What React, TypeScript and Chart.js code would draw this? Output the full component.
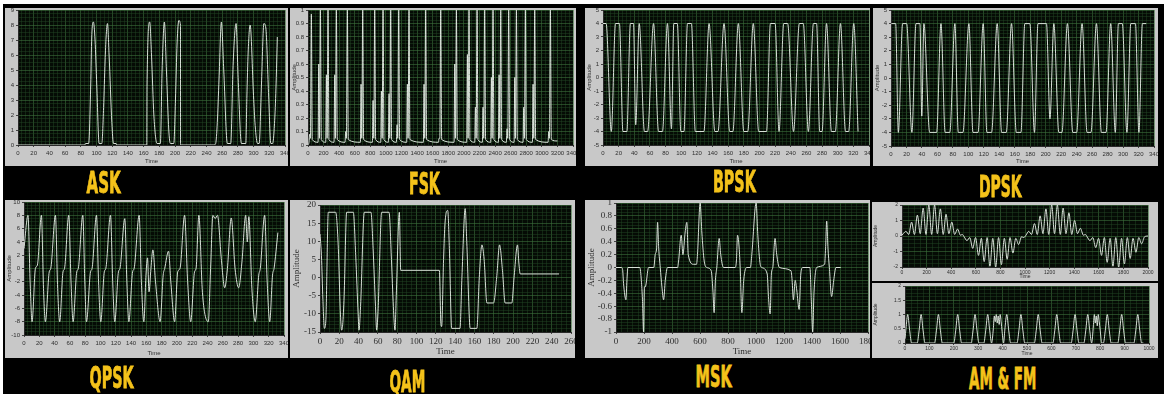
import React, { useEffect, useLayoutEffect, useRef } from "react";
import { Chart, registerables } from "chart.js";
Chart.register(...registerables);

// ---------------- data ----------------
const askTime = [0, 85, 86, 90, 92.6, 93.9, 96, 98.1, 100.3, 103.3,
  106.7, 109, 110.9, 112.2, 113.9, 116, 119.5, 121.6, 125, 125.5,
  164, 164.3, 167.7, 170, 173, 177.1, 181.3, 183.5, 186.4, 189,
  192, 194, 198.4, 200.5, 202.6, 204.8, 206.9, 207, 249.5, 251.7,
  253.8, 256, 259, 262, 266.6, 270.9, 273.9, 277.7, 280.3, 284.5,
  290.1, 291.4, 293.1, 295.6, 299.9, 302, 305, 307.1, 310, 313.1,
  315.6, 319, 322, 324.2, 327.2, 328.9, 330.2];
const askAmp = [0, 0, 0.1, 0.1, 4, 7.2, 8.2, 7, 4, 0.1,
  0.1, 2.5, 5.6, 7.2, 8.1, 6, 1.5, 0.1, 0.1, 0,
  0, 4, 8.2, 6, 2, 0.1, 0.1, 5, 8.2, 5,
  1, 0.1, 0.1, 3, 6.8, 8.3, 8, 0, 0, 0.1,
  1.5, 4.4, 8.2, 5, 0.1, 0.1, 5.3, 8.1, 4.5, 0.1,
  0.1, 3.1, 6.2, 8, 3.3, 1.3, 0.1, 0.1, 4, 8.1,
  7.8, 3.5, 0.1, 0.1, 2, 4.5, 7.2];

const fskTime = [0,
  13, 22, 31, 43, 55,
  129, 138, 147, 159, 171,
  227, 236, 245, 257, 269,
  334, 343, 352, 364, 376,
  475, 484, 493, 505, 517,
  672, 681, 690, 702, 714,
  826, 835, 844, 856, 868,
  933, 942, 951, 963, 975,
  1031, 1040, 1049, 1061, 1073,
  1134, 1143, 1152, 1164, 1176,
  1266, 1275, 1284, 1296, 1308,
  1480, 1489, 1498, 1510, 1522,
  1673, 1682, 1691, 1703, 1715,
  1874, 1883, 1892, 1904, 1916,
  2036, 2045, 2054, 2066, 2078,
  2139, 2148, 2157, 2169, 2181,
  2237, 2246, 2255, 2267, 2279,
  2344, 2353, 2362, 2374, 2386,
  2443, 2452, 2461, 2473, 2485,
  2545, 2554, 2563, 2575, 2587,
  2644, 2653, 2662, 2674, 2686,
  2759, 2768, 2777, 2789, 2801,
  2879, 2888, 2897, 2909, 2921,
  3080, 3089, 3098, 3110, 3122,
  3200];
const fskAmp = [0,
  0.02, 0.08, 0.05, 0.97, 0.04,
  0.02, 0.6, 0.05, 1, 0.04,
  0.02, 0.52, 0.05, 1, 0.04,
  0.02, 0.52, 0.05, 1, 0.04,
  0.02, 0.1, 0.05, 1, 0.04,
  0.02, 0.45, 0.05, 1, 0.04,
  0.02, 0.33, 0.05, 1, 0.04,
  0.02, 0.4, 0.05, 1, 0.04,
  0.02, 0.38, 0.05, 1, 0.04,
  0.02, 0.15, 0.05, 1, 0.04,
  0.02, 0.45, 0.05, 1, 0.04,
  0.02, 0.45, 0.05, 1, 0.04,
  0.02, 0.05, 0.05, 1, 0.04,
  0.02, 0.6, 0.05, 1, 0.04,
  0.02, 0.67, 0.05, 1, 0.04,
  0.02, 0.28, 0.05, 1, 0.04,
  0.02, 0.28, 0.05, 1, 0.04,
  0.02, 0.5, 0.05, 1, 0.04,
  0.02, 0.52, 0.05, 1, 0.04,
  0.02, 0.12, 0.05, 1, 0.04,
  0.02, 0.5, 0.05, 1, 0.04,
  0.02, 0.28, 0.05, 1, 0.04,
  0.02, 0.45, 0.05, 1, 0.04,
  0.02, 0.1, 0.05, 1, 0.04,
  0.03];

const bpskTime = [0, 4, 10.6, 16, 21, 25.5, 30.5, 35, 39, 41.8,
  46.3, 53, 57, 64.6, 71, 76, 82.4, 87.5, 90.5, 95,
  99.5, 103.5, 108, 113, 118, 129, 135.6, 143, 147, 154.7,
  162, 166, 173, 180, 185, 192.1, 199, 209, 214, 220,
  225, 231, 236, 243.5, 251, 256, 262.5, 269, 273, 277,
  280, 285.7, 292, 297, 303.5, 310, 314, 320.5, 326];
const bpskAmp = [4, 4, -4, 4, 4, -4, -4, 4, 4, -3.5,
  4, -4, -4, 4, -4, -4, 4, -3.8, 4, 4,
  -4, -4, 4, 4, -4, -4, 4, -4, -4, 4,
  -4, -4, 4, -4, -4, 4, -4, -4, 4, 4,
  -4, 4, 4, -4, 4, 4, -4, 4, 4, -4,
  -4, 4, -4, -4, 4, -4, -4, 4, -4];

const dpskTime = [0.5, 6, 9.5, 15, 20.2, 27, 32.3, 37.4, 39.8, 42.5,
  50, 59, 64.6, 70, 76, 82.6, 87, 93, 100.7, 106,
  112.5, 119.2, 124, 130, 137.3, 143, 149, 155.8, 162, 168,
  173, 179.5, 185.5, 190, 201, 205.5, 210.5, 217, 221, 228.1,
  235, 240, 247, 253.5, 258.5, 265.6, 272, 278, 284, 290,
  294, 299, 305, 310, 316, 320.5, 325, 330];
const dpskAmp = [4, 4, -4, 4, 4, -4, 4, 4, -2.8, 4,
  -4, -4, 4, -4, -4, 4, -4, -4, 4, -4,
  -4, 4, -4, -4, 4, -4, -4, 4, -4, -4,
  4, 4, -4, 4, 4, -3, 4, -4, -4, 4,
  -4, -4, 4, -4, -4, 4, -4, -4, 4, -4,
  4, 4, -4, 4, 4, -4, 4, 4];

const qpskTime = [0, 5.2, 8, 10.5, 14.9, 17.5, 22.8, 25.5, 28, 33,
  35, 41.1, 44, 46.7, 51, 53, 58.5, 61.5, 64.2, 69,
  71, 76.9, 79.5, 81.7, 87, 89, 94.8, 97.5, 100.4, 105,
  107, 113.1, 116, 118.7, 123.5, 125.5, 131.8, 134.5, 137.1, 142,
  144, 150.6, 153.5, 156.7, 159.5, 161.5, 163.5, 166, 168.5, 172,
  178, 182, 184, 189, 192, 197, 201, 204, 210, 214,
  218, 223, 225, 228.7, 233, 236, 241, 244, 247, 250,
  253, 258, 262.4, 266, 271, 276, 280.7, 285, 289.9, 292,
  294, 298, 302.4, 307, 309, 314.7, 318, 321.3, 325, 327,
  332];
const qpskAmp = [3, 8, -2, -8, 0, 0.5, 8, -3, -8, -0.5,
  0, 8, -3, -8, -0.5, 0, 8, -2, -8, -0.5,
  0, 8, -2, -8, -0.5, 0, 8, -2, -8, -0.5,
  0, 8, -2, -8, -0.5, 0, 7.5, -2, -8, -0.5,
  0, 8, -2, -8, -1, 1.6, -3.5, 0, 2.8, -2,
  -8, -1, 0, 2.6, -2, -8, -0.5, 0, 8, -2,
  -8, -0.5, 0, 8, -3, -6.5, -8, 0, 8, 7.5,
  8, 1.5, -2.9, 0, 7.6, 0, -2.9, 1, 8, 4,
  7.8, -3, -8, -1, 0, 8, -2, -8, -1, 0,
  5.4];

const qamTime = [0, 1.5, 3, 4.5, 6, 8.6, 16.2, 19, 21, 22.4,
  23.5, 25, 27.6, 34.5, 37, 39.5, 40.4, 42, 45.9, 52.8,
  55, 57.5, 58.7, 60, 63.9, 71.5, 74, 76, 77.7, 79,
  82.2, 83.6, 123.6, 125.3, 126, 128, 129.5, 132.3, 134, 136.4,
  145, 147, 150.4, 152, 155.6, 162.5, 165, 167.7, 170, 172.9,
  179.8, 183, 186, 189, 191.8, 198.7, 201, 204.6, 206, 207.4,
  247.6];
const qamAmp = [12, 6, -6, -14, -12, 18, 18, 8, -9, -14.5,
  -13, -5, 18, 18, 6, -10, -14.5, -8, 18, 18,
  8, -8, -14.5, -10, 18, 18, 5, -8, -14.5, -5,
  18, 2, 2, -13, -13.5, 5, 15, 18.5, 8, -14,
  -14, 0, 19, 10, -14, -14, 0, 9, 5, -7,
  -7, 0, 9, 2, -7, -7, 0, 9, 4, 1,
  1];

const mskTime = [0, 40, 48, 54, 71, 78, 85, 170, 181, 189,
  197, 203, 209, 233, 270, 280, 290, 297, 305, 316,
  328, 340, 352, 368, 440, 447, 466, 478, 494, 506,
  516, 554, 575, 582, 601, 613, 630, 649, 680, 692,
  701, 710, 720, 737, 748, 768, 850, 860, 868, 878,
  887, 899, 912, 934, 960, 970, 1001, 1013, 1030, 1041,
  1080, 1089, 1101, 1110, 1120, 1136, 1148, 1167, 1250, 1258,
  1267, 1280, 1291, 1308, 1320, 1334, 1385, 1395, 1405, 1414,
  1433, 1490, 1497, 1505, 1514, 1524, 1540, 1555, 1571, 1605];
const mskAmp = [0, 0, -0.05, -0.25, -0.5, -0.2, 0, 0, -0.2, -0.5,
  -1, -0.3, -0.3, 0, 0, 0.2, 0.3, 0.7, 0.3, 0,
  -0.3, -0.5, -0.2, 0, 0, 0.1, 0.5, 0.2, 0.55, 0.7,
  0.2, 0.05, 0.05, 0.2, 1, 0.55, 0.1, 0, -0.05, -0.35,
  -0.7, -0.2, 0, 0.45, 0.2, 0, 0, 0.1, 0.5, 0.35,
  0, -0.7, -0.2, 0, 0, 0.2, 1, 0.5, 0.05, 0,
  -0.1, -0.45, -0.72, -0.1, 0, 0.45, 0.2, 0, -0.05, -0.2,
  -0.5, -0.2, -0.35, -0.65, -0.1, 0, 0, -0.5, -1, -0.4,
  0, 0.05, 0.3, 0.72, 0.3, 0, -0.45, -0.2, 0, 0];

const amTime = [0, 10, 32, 55, 78, 101, 125, 148, 172, 195,
  218, 241, 265, 288, 312, 335, 358, 381, 405, 428,
  452, 475, 490, 505, 528, 551, 575, 598, 622, 645,
  668, 692, 715, 738, 762, 785, 808, 832, 855, 878,
  902, 925, 948, 972, 990, 1008, 1030, 1053, 1077, 1100,
  1123, 1146, 1170, 1193, 1217, 1240, 1263, 1287, 1310, 1333,
  1357, 1380, 1403, 1427, 1450, 1475, 1490, 1505, 1528, 1551,
  1575, 1598, 1622, 1645, 1668, 1692, 1715, 1738, 1762, 1785,
  1808, 1832, 1855, 1878, 1902, 1925, 1948, 1972, 2000];
const amAmp = [0.05, 0.15, 0.3, 0.1, 0.9, 0.1, 1.35, 0.15, 1.8, 0.1,
  2, 0.1, 2, 0.15, 1.75, 0.1, 1.4, 0.15, 0.9, 0.1,
  0.45, 0.05, 0.1, -0.05, -0.3, -0.1, -0.8, -0.1, -1.25, -0.15,
  -1.65, -0.1, -1.95, -0.15, -2, -0.1, -1.85, -0.15, -1.5, -0.1,
  -1.1, -0.15, -0.55, -0.05, -0.1, 0.05, 0.3, 0.1, 0.8, 0.1,
  1.3, 0.15, 1.75, 0.1, 2, 0.15, 2, 0.1, 1.8, 0.15,
  1.5, 0.1, 1, 0.15, 0.5, 0.05, 0.1, -0.05, -0.3, -0.1,
  -0.75, -0.15, -1.25, -0.1, -1.7, -0.15, -1.95, -0.1, -2, -0.15,
  -1.8, -0.1, -1.45, -0.15, -1.05, -0.1, -0.5, -0.05, 0];

const fmTime = [0, 4, 11, 19, 27, 50, 58, 66, 74, 82,
  121, 129, 137, 145, 153, 200, 208, 216, 224, 232,
  271, 279, 287, 295, 303, 323, 331, 339, 347, 355,
  362, 366, 370, 374, 378, 382, 386, 390, 394, 398,
  404, 409, 417, 425, 433, 459, 467, 475, 483, 491,
  530, 538, 546, 554, 562, 606, 614, 622, 630, 638,
  681, 689, 697, 705, 713, 733, 741, 749, 757, 765,
  772, 776, 780, 784, 788, 792, 796, 800, 806, 813,
  821, 829, 837, 845, 872, 880, 888, 896, 904, 938,
  946, 954, 962, 970, 977];
const fmAmp = [0.15, 0.5, 1, 0.45, 0, 0, 0.45, 1, 0.45, 0,
  0, 0.45, 1, 0.45, 0, 0, 0.45, 1, 0.45, 0,
  0, 0.45, 1, 0.45, 0, 0, 0.45, 1, 0.45, 0,
  0.5, 0.95, 0.75, 1, 0.7, 0.95, 0.65, 1, 0.75, 0.4,
  0, 0.45, 1, 0.45, 0, 0, 0.45, 1, 0.45, 0,
  0, 0.45, 1, 0.45, 0, 0, 0.45, 1, 0.45, 0,
  0, 0.45, 1, 0.45, 0, 0, 0.45, 1, 0.45, 0,
  0.6, 1, 0.7, 0.95, 0.6, 1, 0.75, 0.45, 0, 0,
  0.45, 1, 0.45, 0, 0, 0.45, 1, 0.45, 0, 0,
  0.45, 1, 0.45, 0, 0];

const labels = ["ASK", "FSK", "BPSK", "DPSK", "QPSK", "QAM", "MSK", "AM & FM"];

// ---------------- styling ----------------
const PANEL = "#c8c8c8";
const PLOT_BG = "#050b05";
const MAJOR = "rgba(58,110,58,0.6)";
const MINOR = "rgba(36,70,38,0.45)";
const TRACE = "rgba(226,234,226,0.95)";
const TEXT = "#2e2e2e";
const YELLOW = "#f4c21a";

type Geo = { x: number; y: number; w: number; h: number };
type Plot = { l: number; t: number; r: number; b: number };
type Cfg = {
  key: string; panel: Geo; plot: Plot;
  xr: number[]; yr: number[];
  time: number[]; amp: number[];
  fontSize: number; family: string; yTitle: boolean;
  tickPad: number;
};

const SANS = "'Liberation Sans', Arial, sans-serif";
const SERIF = "'Liberation Serif', 'Times New Roman', serif";

const charts: Cfg[] = [
  { key: "ask", panel: { x: 5, y: 8, w: 283, h: 158 }, plot: { l: 18, t: 10, r: 285, b: 145 }, xr: [0, 340, 20, 5], yr: [0, 9, 1, 0.25], time: askTime, amp: askAmp, fontSize: 6, family: SANS, yTitle: false, tickPad: 3 },
  { key: "fsk", panel: { x: 290, y: 8, w: 286, h: 158 }, plot: { l: 308, t: 10, r: 573, b: 145 }, xr: [0, 3400, 200, 50], yr: [0, 1, 0.1, 0.025], time: fskTime, amp: fskAmp, fontSize: 6, family: SANS, yTitle: true, tickPad: 3 },
  { key: "bpsk", panel: { x: 585, y: 8, w: 285, h: 158 }, plot: { l: 603, t: 10, r: 869, b: 145 }, xr: [0, 340, 20, 5], yr: [-5, 5, 1, 0.25], time: bpskTime, amp: bpskAmp, fontSize: 6, family: SANS, yTitle: true, tickPad: 3 },
  { key: "dpsk", panel: { x: 873, y: 8, w: 285, h: 158 }, plot: { l: 891, t: 10, r: 1154, b: 146 }, xr: [0, 340, 20, 5], yr: [-5, 5, 1, 0.25], time: dpskTime, amp: dpskAmp, fontSize: 6, family: SANS, yTitle: true, tickPad: 3 },
  { key: "qpsk", panel: { x: 5, y: 200, w: 283, h: 158 }, plot: { l: 24, t: 202, r: 284, b: 335 }, xr: [0, 340, 20, 5], yr: [-10, 10, 2, 0.5], time: qpskTime, amp: qpskAmp, fontSize: 6, family: SANS, yTitle: true, tickPad: 3 },
  { key: "qam", panel: { x: 290, y: 200, w: 285, h: 158 }, plot: { l: 320, t: 205, r: 571, b: 332 }, xr: [0, 260, 20, 5], yr: [-15, 20, 5, 1], time: qamTime, amp: qamAmp, fontSize: 9, family: SERIF, yTitle: true, tickPad: 2 },
  { key: "msk", panel: { x: 585, y: 200, w: 285, h: 158 }, plot: { l: 616, t: 203, r: 868, b: 332 }, xr: [0, 1800, 200, 40], yr: [-1, 1, 0.2, 0.05], time: mskTime, amp: mskAmp, fontSize: 9, family: SERIF, yTitle: true, tickPad: 2 },
  { key: "am", panel: { x: 872, y: 202, w: 286, h: 79 }, plot: { l: 902, t: 205, r: 1148, b: 267 }, xr: [0, 2000, 200, 50], yr: [-2, 2, 1, 0.25], time: amTime, amp: amAmp, fontSize: 5, family: SANS, yTitle: true, tickPad: 1 },
  { key: "fm", panel: { x: 872, y: 283, w: 286, h: 75 }, plot: { l: 905, t: 286, r: 1149, b: 343 }, xr: [0, 1000, 100, 25], yr: [0, 2, 0.5, 0.125], time: fmTime, amp: fmAmp, fontSize: 5, family: SANS, yTitle: true, tickPad: 1 },
];

const labelPos = [
  { cx: 103, cy: 182.5, w: 34 },
  { cx: 424.7, cy: 184, w: 31 },
  { cx: 734, cy: 182, w: 43 },
  { cx: 1000, cy: 186.7, w: 43 },
  { cx: 111.3, cy: 378, w: 44 },
  { cx: 407, cy: 381.7, w: 36 },
  { cx: 713, cy: 376.7, w: 36 },
  { cx: 1002, cy: 379, w: 67 },
];

const isMajor = (v: number, m: number) => Math.abs(v / m - Math.round(v / m)) < 1e-6;
const fmt = (v: number) => String(Math.round(v * 1000) / 1000);

const plotBg = {
  id: "plotBg",
  beforeDraw(chart: any) {
    const { ctx, chartArea: a } = chart;
    ctx.save();
    ctx.fillStyle = PLOT_BG;
    ctx.fillRect(a.left, a.top, a.right - a.left, a.bottom - a.top);
    ctx.restore();
  },
};

function WaveChart({ c }: { c: Cfg }) {
  const ref = useRef<HTMLCanvasElement>(null);
  useEffect(() => {
    const canvas = ref.current!;
    const padTop = c.plot.t - c.panel.y;
    const padRight = c.panel.x + c.panel.w - c.plot.r;
    const yW = c.plot.l - c.panel.x;
    const xH = c.panel.y + c.panel.h - c.plot.b;
    const font = { family: c.family, size: c.fontSize };
    const [xMin, xMax, xMaj, xMin2] = c.xr;
    const [yMin, yMax, yMaj, yMin2] = c.yr;
    const data = c.time.map((t, i) => ({ x: t, y: c.amp[i] }));
    const chart = new Chart(canvas, {
      type: "line",
      data: {
        datasets: [{
          data,
          borderColor: TRACE,
          borderWidth: 1,
          pointRadius: 0,
          cubicInterpolationMode: "monotone",
          fill: false,
        }],
      },
      options: {
        responsive: false,
        animation: false,
        devicePixelRatio: 1,
        events: [],
        plugins: { legend: { display: false }, tooltip: { enabled: false }, title: { display: false } },
        layout: { padding: { top: padTop, right: padRight, left: 0, bottom: 0 } },
        scales: {
          x: {
            type: "linear",
            min: xMin, max: xMax,
            ticks: {
              stepSize: xMin2, autoSkip: false, maxRotation: 0, minRotation: 0,
              font, color: TEXT, padding: c.tickPad,
              callback: (v: any) => (isMajor(Number(v), xMaj) ? fmt(Number(v)) : ""),
            },
            grid: {
              color: (ctx: any) => (ctx.tick && isMajor(ctx.tick.value, xMaj) ? MAJOR : MINOR),
              tickColor: (ctx: any) => (ctx.tick && isMajor(ctx.tick.value, xMaj) ? "#444" : "rgba(0,0,0,0)"),
              tickLength: 2,
              lineWidth: 1,
            },
            border: { display: true, color: "#2a2a2a" },
            title: { display: true, text: "Time", font, color: TEXT, padding: { top: 0, bottom: 1 } },
            afterFit: (s: any) => { s.height = xH; s.paddingLeft = 0; s.paddingRight = 0; },
          },
          y: {
            type: "linear",
            min: yMin, max: yMax,
            ticks: {
              stepSize: yMin2, autoSkip: false,
              font, color: TEXT, padding: 2,
              callback: (v: any) => (isMajor(Number(v), yMaj) ? fmt(Number(v)) : ""),
            },
            grid: {
              color: (ctx: any) => (ctx.tick && isMajor(ctx.tick.value, yMaj) ? MAJOR : MINOR),
              tickColor: (ctx: any) => (ctx.tick && isMajor(ctx.tick.value, yMaj) ? "#444" : "rgba(0,0,0,0)"),
              tickLength: 2,
              lineWidth: 1,
            },
            border: { display: true, color: "#2a2a2a" },
            title: { display: c.yTitle, text: "Amplitude", font, color: TEXT, padding: { top: 1, bottom: 0 } },
            afterFit: (s: any) => { s.width = yW; s.paddingTop = 0; s.paddingBottom = 0; },
          },
        },
      },
      plugins: [plotBg],
    } as any);
    return () => chart.destroy();
  }, [c]);
  return (
    <div style={{ position: "absolute", left: c.panel.x, top: c.panel.y, width: c.panel.w, height: c.panel.h, background: PANEL }}>
      <canvas ref={ref} width={c.panel.w} height={c.panel.h} style={{ display: "block", width: c.panel.w, height: c.panel.h }} />
    </div>
  );
}

function Label({ text, cx, cy, w }: { text: string; cx: number; cy: number; w: number }) {
  const ref = useRef<HTMLSpanElement>(null);
  useLayoutEffect(() => {
    const el = ref.current!;
    const actual = el.offsetWidth || 1;
    el.style.left = `${cx - actual / 2}px`;
    el.style.transform = `scaleX(${w / actual})`;
  }, [cx, w]);
  return (
    <span
      ref={ref}
      style={{
        position: "absolute", left: cx, top: cy - 15,
        fontFamily: "'Liberation Sans Narrow', 'DejaVu Sans Condensed', 'Liberation Sans', sans-serif",
        fontWeight: 700, fontSize: 30, lineHeight: "30px",
        color: YELLOW, whiteSpace: "nowrap", transformOrigin: "center",
        WebkitTextStroke: `0.8px ${YELLOW}`,
      }}
    >
      {text}
    </span>
  );
}

export default function App() {
  useEffect(() => {
    document.body.style.margin = "0";
  }, []);
  return (
    <div style={{ position: "fixed", left: 0, top: 0, width: 1164, height: 394, background: "#000", overflow: "hidden" }}>
      <div style={{ position: "absolute", left: 0, top: 0, width: 1164, height: 4, background: "#fff" }} />
      <div style={{ position: "absolute", left: 0, top: 0, width: 3, height: 394, background: "#fff" }} />
      {charts.map((c) => (
        <WaveChart key={c.key} c={c} />
      ))}
      {labels.map((t, i) => (
        <Label key={t} text={t} cx={labelPos[i].cx} cy={labelPos[i].cy} w={labelPos[i].w} />
      ))}
    </div>
  );
}
